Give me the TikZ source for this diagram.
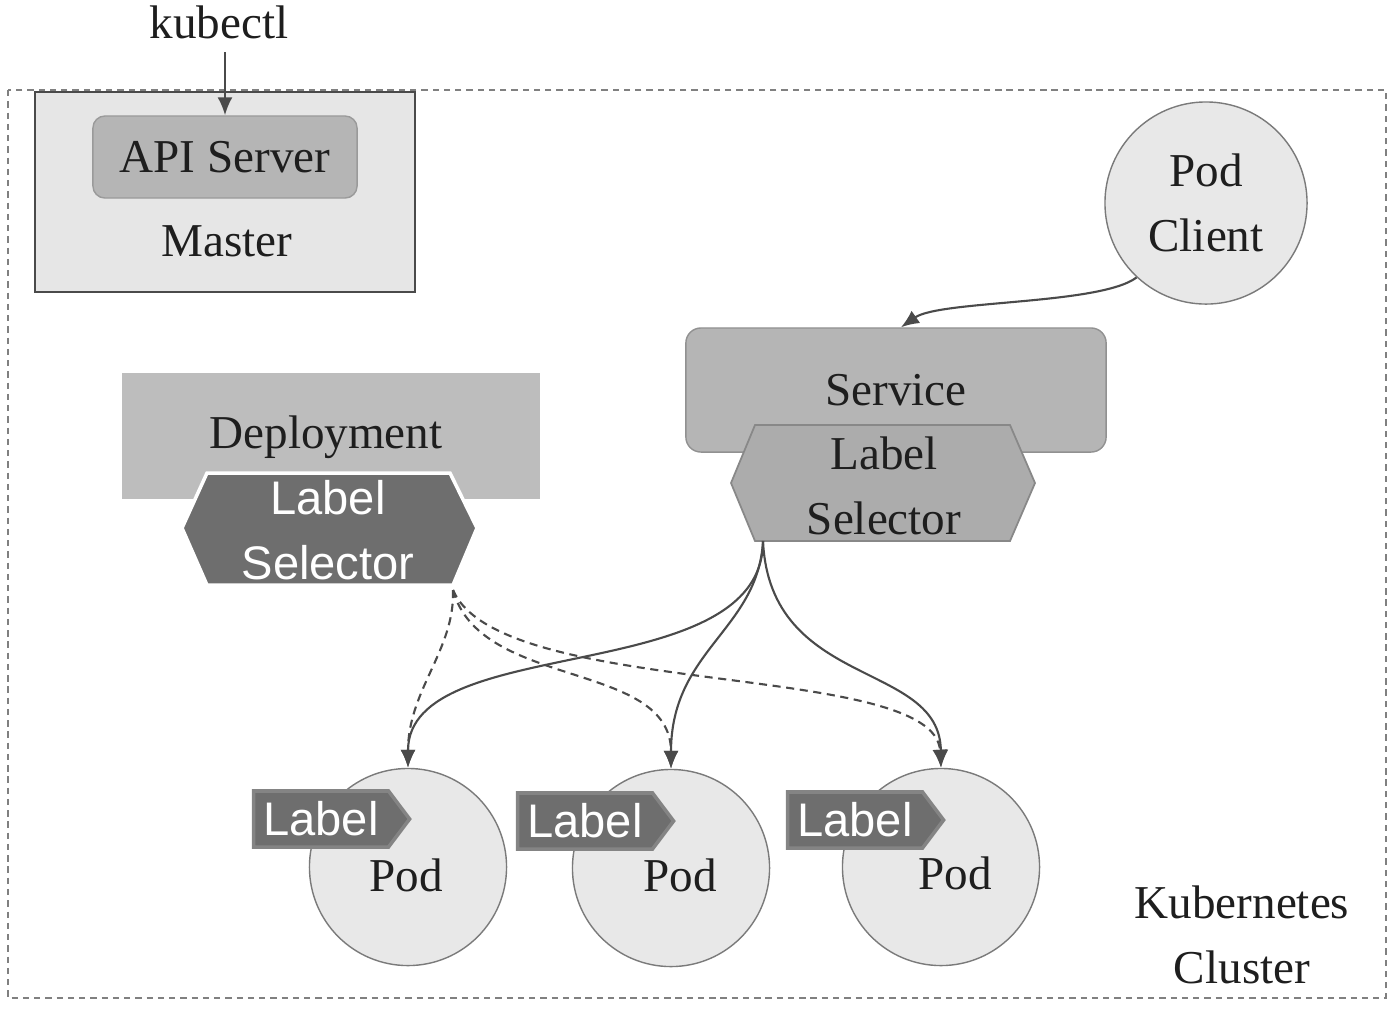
\documentclass[tikz,border=0pt]{standalone}
\usepackage{fontspec}
\setmainfont{Liberation Serif}
\setsansfont{Liberation Sans}
\usetikzlibrary{shapes.symbols, arrows.meta}

\definecolor{linegray}{HTML}{4A4A4A}
\definecolor{textgray}{HTML}{1E1E1E}
\definecolor{boxlight}{HTML}{E6E6E6}
\definecolor{boxmid}{HTML}{B5B5B5}
\definecolor{deplfill}{HTML}{BDBDBD}
\definecolor{tagfill}{HTML}{6E6E6E}
\definecolor{podfill}{HTML}{E8E8E8}
\definecolor{podline}{HTML}{7A7A7A}

\begin{document}
\begin{tikzpicture}[x=0.01cm, y=-0.01cm,
  txt/.style={font=\fontsize{13.4}{18.5}\selectfont, text=textgray, align=center, inner sep=0pt},
  wtxt/.style={font=\sffamily\fontsize{13.4}{18.5}\selectfont, text=white, align=center, inner sep=0pt},
  podcircle/.style={circle, draw=podline, fill=podfill, minimum size=19.7mm, inner sep=0pt},
  labeltag/.style={signal, signal to=east, signal pointer angle=106, fill=tagfill, draw=tagfill!85!white, line width=1pt, minimum width=15.6mm, minimum height=5.6mm, inner sep=0pt, wtxt},
  conn/.style={linegray, line width=0.6pt, -{Latex[length=1.8mm, width=1.5mm]}},
  dconn/.style={conn, dash pattern=on 2.3pt off 1.6pt}]
\useasboundingbox (0,0) rectangle (1394,1008);

% cluster frame
\draw[gray, line width=0.5pt, dash pattern=on 1.8pt off 1.4pt] (8,90) rectangle (1386,998);
\node[txt] (clustertxt) at (1242,935) {Kubernetes\\Cluster};

% master
\node[draw=linegray, fill=boxlight, line width=0.5pt, minimum width=38mm, minimum height=20mm] (master) at (225,192) {};
\node[txt, draw=boxmid!85!black, fill=boxmid, rounded corners=1.2mm, minimum width=26.4mm, minimum height=8.2mm] (api) at (225,157) {API Server};
\node[txt] (mastertxt) at (227,241) {Master};
\node[txt] (kubectl) at (219,22) {kubectl};
\draw[conn] ([yshift=-1.3mm]kubectl.south -| api.north) -- (api.north);

% pod client
\node[txt, circle, draw=podline, fill=podfill, minimum size=20.2mm] (client) at (1206,203) {Pod\\Client};

% service
\node[txt, draw=boxmid!80!black, fill=boxmid, rounded corners=1.5mm, minimum width=42mm, minimum height=12.4mm] (svc) at (896,390) {Service};
\draw[draw=boxmid!75!black, fill=boxmid!95!black, line width=0.5pt] (755,425) -- (1010,425) -- (1035,483) -- (1010,541) -- (755,541) -- (731,483) -- cycle;
\node[txt] (svcseltxt) at (884,486) {Label\\Selector};
\coordinate (svcsel) at (763,541);
\draw[conn] (client.227) .. controls (1100,305) and (940,300) .. ([xshift=0.5mm]svc.north);

% deployment
\node[fill=deplfill, minimum width=41.8mm, minimum height=12.5mm] (depl) at (331,436) {};
\node[txt] (depltxt) at (326,437) {Deployment};
\draw[draw=white, fill=tagfill, line width=1pt] (207,473) -- (450,473) -- (477,528) -- (453,585) -- (207,585) -- (182,528) -- cycle;
\node[wtxt] (deplseltxt) at (328,530) {Label\\Selector};
\coordinate (deplsel) at (453,590);

% pods
\node[podcircle] (pod1) at (408,867) {};
\node[podcircle] (pod2) at (671,868) {};
\node[podcircle] (pod3) at (941,867) {};
\node[labeltag] (tag1) at (321,819) {Label};
\node[labeltag] (tag2) at (585,821) {Label};
\node[labeltag] (tag3) at (855,820) {Label};
\node[txt] (pod1txt) at (406,875) {Pod};
\node[txt] (pod2txt) at (680,875) {Pod};
\node[txt] (pod3txt) at (955,873) {Pod};

% service selects pods
\draw[conn] (svcsel) .. controls (763,690) and (408,630) .. (pod1.north);
\draw[conn] (svcsel) .. controls (758,630) and (671,650) .. (pod2.north);
\draw[conn] (svcsel) .. controls (770,690) and (940,660) .. (pod3.north);

% deployment selects pods
\draw[dconn] (deplsel) .. controls (455,650) and (408,690) .. (pod1.north);
\draw[dconn] (deplsel) .. controls (480,690) and (671,660) .. (pod2.north);
\draw[dconn] (deplsel) .. controls (500,700) and (935,660) .. (pod3.north);

\end{tikzpicture}
\end{document}
